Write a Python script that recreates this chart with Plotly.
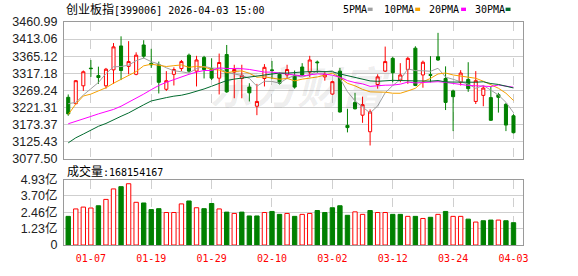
import plotly.graph_objects as go

# ---------------- data ----------------
dates = ["2025-12-31", "2026-01-05", "2026-01-06", "2026-01-07", "2026-01-08", "2026-01-09",
         "2026-01-12", "2026-01-13", "2026-01-14", "2026-01-15", "2026-01-16", "2026-01-19",
         "2026-01-20", "2026-01-21", "2026-01-22", "2026-01-23", "2026-01-26", "2026-01-27",
         "2026-01-28", "2026-01-29", "2026-01-30", "2026-02-02", "2026-02-03", "2026-02-04",
         "2026-02-05", "2026-02-06", "2026-02-09", "2026-02-10", "2026-02-11", "2026-02-12",
         "2026-02-13", "2026-02-24", "2026-02-25", "2026-02-26", "2026-02-27", "2026-03-02",
         "2026-03-03", "2026-03-04", "2026-03-05", "2026-03-06", "2026-03-09", "2026-03-10",
         "2026-03-11", "2026-03-12", "2026-03-13", "2026-03-16", "2026-03-17", "2026-03-18",
         "2026-03-19", "2026-03-20", "2026-03-23", "2026-03-24", "2026-03-25", "2026-03-26",
         "2026-03-27", "2026-03-30", "2026-03-31", "2026-04-01", "2026-04-02", "2026-04-03"]

opens = [3250.0, 3232.1, 3282.2, 3331.8, 3310.8, 3282.2, 3326.9, 3393.9, 3336.7, 3314.4,
         3396.6, 3345.0, 3341.2, 3272.4, 3314.4, 3330.5, 3368.0, 3323.3, 3361.8, 3330.5,
         3303.6, 3369.8, 3320.6, 3302.7, 3278.6, 3225.0, 3302.7, 3326.9, 3314.4, 3312.6,
         3309.9, 3334.9, 3320.6, 3349.0, 3307.2, 3259.0, 3323.3, 3171.3, 3235.7, 3199.9,
         3153.5, 3285.8, 3323.3, 3359.1, 3298.3, 3327.8, 3387.7, 3312.6, 3313.5, 3363.5,
         3302.7, 3267.9, 3292.0, 3300.1, 3238.4, 3255.4, 3249.1, 3257.2, 3230.3, 3198.2]
highs = [3258.0, 3298.3, 3325.1, 3354.6, 3335.8, 3332.3, 3402.0, 3420.8, 3407.3, 3376.1,
         3410.0, 3385.9, 3350.1, 3323.3, 3334.0, 3354.6, 3372.5, 3366.2, 3366.2, 3359.1,
         3372.5, 3396.6, 3341.2, 3341.2, 3289.4, 3287.6, 3343.0, 3351.9, 3318.8, 3341.2,
         3325.1, 3345.7, 3366.2, 3353.0, 3323.3, 3296.5, 3332.3, 3217.8, 3262.5, 3251.8,
         3216.0, 3314.4, 3392.1, 3363.5, 3345.7, 3363.5, 3393.0, 3352.8, 3365.3, 3430.6,
         3336.7, 3271.5, 3326.0, 3348.3, 3323.3, 3283.1, 3280.4, 3262.5, 3233.9, 3202.6]
lows = [3198.2, 3230.3, 3267.9, 3307.2, 3287.6, 3274.2, 3287.6, 3298.3, 3314.4, 3311.7,
        3359.1, 3332.3, 3260.7, 3267.9, 3283.1, 3323.3, 3318.8, 3280.4, 3302.8, 3298.3,
        3258.0, 3262.5, 3247.3, 3247.3, 3238.4, 3199.9, 3280.4, 3301.0, 3285.8, 3301.0,
        3274.2, 3309.9, 3307.2, 3318.8, 3296.5, 3257.2, 3207.1, 3151.7, 3216.0, 3178.5,
        3115.0, 3274.2, 3321.5, 3292.0, 3292.0, 3287.6, 3281.3, 3276.9, 3292.0, 3351.9,
        3214.3, 3155.3, 3283.1, 3265.2, 3231.2, 3225.0, 3183.9, 3207.1, 3155.3, 3149.0]
closes = [3203.5, 3296.5, 3321.5, 3330.4, 3305.4, 3328.7, 3391.3, 3325.1, 3350.1, 3368.0,
          3365.3, 3341.0, 3292.0, 3296.5, 3327.8, 3350.1, 3323.3, 3354.6, 3327.8, 3303.6,
          3347.5, 3265.2, 3327.8, 3311.7, 3262.5, 3238.4, 3334.0, 3325.1, 3289.4, 3327.8,
          3278.6, 3312.6, 3354.6, 3347.0, 3314.4, 3293.8, 3208.9, 3165.1, 3217.8, 3229.4,
          3208.9, 3307.2, 3350.1, 3318.8, 3312.6, 3359.1, 3283.1, 3348.3, 3311.5, 3354.6,
          3235.7, 3251.8, 3317.9, 3274.2, 3296.5, 3275.9, 3185.6, 3250.0, 3172.2, 3150.8]

ma5 = [3232.1, 3235.7, 3256.3, 3274.2, 3291.5, 3316.5, 3335.5, 3336.2, 3340.1, 3352.6,
       3360.0, 3349.9, 3343.3, 3332.6, 3324.5, 3321.5, 3317.9, 3330.5, 3336.7, 3331.9,
       3331.4, 3319.7, 3314.4, 3311.2, 3302.9, 3281.1, 3294.9, 3294.3, 3289.9, 3302.9,
       3311.0, 3306.7, 3312.6, 3324.1, 3321.4, 3324.5, 3303.7, 3265.8, 3240.0, 3223.0,
       3206.0, 3225.7, 3262.7, 3282.9, 3299.5, 3329.6, 3324.7, 3324.4, 3322.9, 3331.3,
       3306.6, 3300.4, 3294.3, 3286.8, 3275.2, 3283.3, 3270.0, 3256.4, 3236.0, 3206.9]
ma10 = [3201.7, 3231.0, 3253.6, 3259.0, 3267.9, 3276.8, 3289.4, 3301.0, 3312.6, 3322.1,
        3338.2, 3342.7, 3339.7, 3336.3, 3338.6, 3340.7, 3333.9, 3336.9, 3334.6, 3328.2,
        3326.4, 3318.8, 3322.4, 3323.9, 3317.4, 3306.2, 3307.3, 3304.4, 3300.5, 3302.9,
        3296.1, 3300.8, 3303.5, 3307.0, 3312.2, 3317.7, 3305.2, 3289.2, 3282.1, 3272.2,
        3265.3, 3264.7, 3264.3, 3261.4, 3261.3, 3267.8, 3275.2, 3293.5, 3302.9, 3315.4,
        3318.1, 3312.6, 3309.3, 3304.9, 3303.3, 3295.0, 3285.2, 3275.4, 3261.4, 3241.1]
ma20 = [3175.8, 3182.1, 3189.2, 3196.4, 3203.5, 3208.9, 3216.0, 3225.0, 3235.7, 3247.3,
        3259.0, 3271.5, 3283.1, 3292.0, 3300.1, 3307.2, 3314.4, 3320.6, 3325.1, 3325.1,
        3332.3, 3330.8, 3331.1, 3330.1, 3328.0, 3323.5, 3320.6, 3320.6, 3317.6, 3315.6,
        3311.2, 3309.8, 3312.9, 3315.5, 3314.8, 3312.0, 3306.3, 3296.8, 3291.3, 3287.6,
        3280.7, 3282.8, 3283.9, 3284.2, 3286.7, 3292.8, 3290.2, 3291.4, 3292.5, 3293.8,
        3291.7, 3288.6, 3286.8, 3283.2, 3282.3, 3281.4, 3280.2, 3284.5, 3282.2, 3278.2]
ma30 = [3122.3, 3136.5, 3147.0, 3159.0, 3168.7, 3176.7, 3187.5, 3196.8, 3206.2, 3218.3,
        3229.0, 3239.8, 3245.1, 3249.1, 3253.2, 3255.8, 3260.7, 3266.0, 3273.3, 3281.0,
        3290.0, 3297.0, 3301.0, 3304.0, 3306.0, 3308.0, 3311.0, 3315.0, 3318.0, 3317.7,
        3320.2, 3320.8, 3321.9, 3322.4, 3322.7, 3321.6, 3315.5, 3310.2, 3305.7, 3301.1,
        3295.9, 3294.8, 3296.7, 3297.5, 3297.0, 3297.3, 3295.9, 3295.7, 3295.2, 3296.9,
        3293.1, 3292.7, 3292.4, 3291.1, 3292.2, 3293.5, 3288.5, 3286.0, 3282.1, 3276.2]

# volume in 亿 (1e8) shares
volumes = [2.16, 2.72, 2.86, 2.79, 2.96, 3.44, 4.23, 4.40, 4.62, 3.22,
           3.17, 2.67, 2.74, 2.45, 2.45, 3.10, 3.32, 2.81, 2.74, 3.13,
           2.72, 2.48, 2.38, 2.48, 2.19, 2.19, 2.45, 2.53, 2.31, 2.38,
           2.16, 2.31, 2.38, 2.60, 2.45, 2.81, 2.96, 2.24, 2.50, 2.31,
           2.60, 2.45, 2.45, 2.31, 2.31, 2.16, 2.16, 2.00, 2.09, 2.31,
           2.53, 2.16, 2.16, 1.95, 1.73, 1.83, 1.88, 1.88, 1.83, 1.68154167]

price_ticks = [3077.50, 3125.43, 3173.37, 3221.31, 3269.24, 3317.18, 3365.12, 3413.06, 3460.99]
vol_ticks = [0, 1.2325, 2.465, 3.6975, 4.93]
vol_tick_labels = ["0", "1.23亿", "2.46亿", "3.70亿", "4.93亿"]
date_ticks = ["2026-01-07", "2026-01-19", "2026-01-29", "2026-02-10",
              "2026-03-02", "2026-03-12", "2026-03-24", "2026-04-03"]
date_tick_labels = ["01-07", "01-19", "01-29", "02-10", "03-02", "03-12", "03-24", "04-03"]

title_cn = "创业板指"
title_rest = "[399006] 2026-04-03 15:00"
vol_label_cn = "成交量"
vol_label_val = ":168154167"
ma_names = ["5PMA", "10PMA", "20PMA", "30PMA"]
watermark = "东方财富"

# ---------------- styles ----------------
RED = "#ff0000"
GREEN = "#008000"
MA_COLORS = ["#a0a0a0", "#f5a100", "#ff00ff", "#006a2e"]
BORDER = "#9a9a9a"
GRID = "#cfcfcf"

W, H = 578, 276
ML, MR, MT, MB = 56, 55, 22, 21
PW, PH = W - ML - MR, H - MT - MB


def px(x):
    return (x - ML) / PW


def py(y):
    return (H - MB - y) / PH


fig = go.Figure()

fig.add_trace(go.Candlestick(
    x=dates, open=opens, high=highs, low=lows, close=closes,
    increasing=dict(line=dict(color=RED, width=1), fillcolor="#ffffff"),
    decreasing=dict(line=dict(color=GREEN, width=1), fillcolor=GREEN),
    whiskerwidth=0, xaxis="x", yaxis="y", showlegend=False, hoverinfo="skip"))

for vals, col in zip([ma5, ma10, ma20, ma30], MA_COLORS):
    fig.add_trace(go.Scatter(x=dates, y=vals, mode="lines",
                             line=dict(color=col, width=1),
                             xaxis="x", yaxis="y", showlegend=False, hoverinfo="skip"))

prev_close = [opens[0]] + closes[:-1]
is_up = [c > p for c, p in zip(closes, prev_close)]
fig.add_trace(go.Bar(
    x=dates, y=volumes, width=0.58,
    marker=dict(color=["#ffffff" if u else GREEN for u in is_up],
                line=dict(color=[RED if u else GREEN for u in is_up], width=1)),
    xaxis="x2", yaxis="y2", showlegend=False, hoverinfo="skip"))

span_l = 60.82
x_range = [-0.56, -0.56 + span_l]

axis_common = dict(showline=True, linecolor=BORDER, linewidth=1, mirror=True,
                   zeroline=False, ticks="")

fig.update_layout(
    width=W, height=H,
    margin=dict(l=ML, r=MR, t=MT, b=MB, pad=0),
    paper_bgcolor="#ffffff", plot_bgcolor="#ffffff",
    boxgap=0.42,
    showlegend=False,
    xaxis=dict(type="category", domain=[0, 1], anchor="y", range=x_range,
               tickvals=date_ticks, showticklabels=False,
               showgrid=True, gridcolor=GRID, griddash="dash", gridwidth=1,
               rangeslider=dict(visible=False), **axis_common),
    yaxis=dict(domain=[py(165), 1], range=[price_ticks[0], price_ticks[-1]],
               tickvals=price_ticks, ticktext=[f"{v:.2f}" for v in price_ticks],
               showgrid=True, gridcolor=GRID, gridwidth=1,
               tickfont=dict(family="Arial, Liberation Sans", size=12.5, color="#222222"),
               ticklabelstandoff=3, **axis_common),
    xaxis2=dict(type="category", domain=[0, 1], anchor="y2", matches="x", range=x_range,
                tickvals=date_ticks, ticktext=date_tick_labels,
                tickfont=dict(family="DejaVu Sans Mono", size=10, color=RED),
                showgrid=True, gridcolor=GRID, griddash="dash", gridwidth=1,
                ticklabelstandoff=4, **axis_common),
    yaxis2=dict(domain=[0, py(186.7)], range=[0, 4.93],
                tickvals=vol_ticks, ticktext=vol_tick_labels,
                showgrid=True, gridcolor=GRID, gridwidth=1,
                tickfont=dict(family="Arial, Noto Sans CJK SC", size=12.5, color="#222222"),
                ticklabelstandoff=3, **axis_common),
)

annotations = []
# watermark
annotations.append(dict(text=watermark, xref="paper", yref="paper", x=px(296), y=py(88),
                        xanchor="center", yanchor="middle", showarrow=False,
                        font=dict(family="Noto Sans CJK SC", size=44, color="rgba(0,0,0,0.07)",
                                  weight="bold", style="italic")))
# header
annotations.append(dict(
    text=f"<span style=\"font-family:'Noto Sans CJK SC';font-size:12px\">{title_cn}</span>{title_rest}",
    xref="paper", yref="paper", x=px(56.5), y=py(8), xanchor="left", yanchor="middle",
    showarrow=False, font=dict(family="DejaVu Sans Mono", size=10, color="#000000")))
# volume label
annotations.append(dict(
    text=f"<span style=\"font-family:'Noto Sans CJK SC';font-size:12px\">{vol_label_cn}</span>{vol_label_val}",
    xref="paper", yref="paper", x=px(57), y=py(177), xanchor="left", yanchor="middle",
    showarrow=False, font=dict(family="DejaVu Sans Mono", size=10, color="#000000")))

shapes = []
legend_text_x = [338.3, 380, 425, 471.7]
legend_sq_x = [365, 413.3, 460, 505.3]
for name, tx, sx, col in zip(ma_names, legend_text_x, legend_sq_x, MA_COLORS):
    annotations.append(dict(text=name, xref="paper", yref="paper", x=px(tx), y=py(8.5),
                            xanchor="left", yanchor="middle", showarrow=False,
                            font=dict(family="DejaVu Sans Mono", size=10, color="#000000")))
    shapes.append(dict(type="rect", xref="paper", yref="paper",
                       x0=px(sx), x1=px(sx + 5), y0=py(10.5), y1=py(7),
                       fillcolor=col, line=dict(width=0)))

fig.update_layout(annotations=annotations, shapes=shapes)

fig.write_html("out.html")
